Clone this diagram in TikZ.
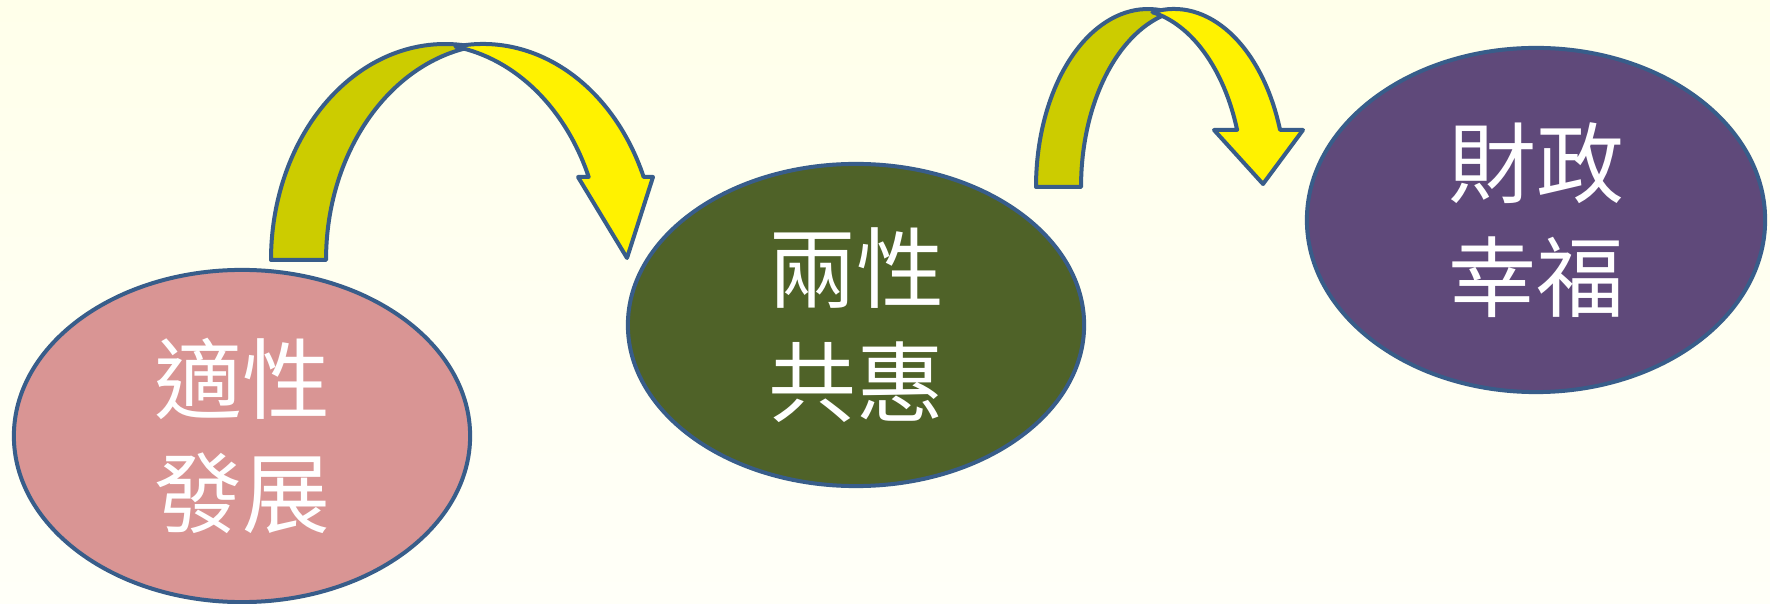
\documentclass[tikz,border=0pt]{standalone}
\usepackage{fontspec}
\newfontfamily\cjkfont{Noto Sans CJK TC}
\usetikzlibrary{shapes.geometric}
\definecolor{edgeblue}{HTML}{385D8A}
\definecolor{backolive}{HTML}{CCCC00}
\definecolor{bubblepink}{HTML}{D99594}
\definecolor{bubblegreen}{HTML}{4F6228}
\definecolor{bubblepurple}{HTML}{5F497A}
\tikzset{
  bubble/.style={ellipse, draw=edgeblue, line width=0.04cm, inner sep=0pt,
    text=white, align=center, font=\cjkfont\fontsize{25}{32.5}\selectfont},
  arrowback/.style={fill=backolive, draw=edgeblue, line width=0.04cm, line join=round},
  arrowfront/.style={fill=yellow, draw=edgeblue, line width=0.04cm, line join=round}
}
\begin{document}
\begin{tikzpicture}[x=0.01cm, y=0.01cm]
    \useasboundingbox (0,0) rectangle (1770,603);
    \shade[top color={rgb,255:red,255;green,255;blue,234}, bottom color={rgb,255:red,255;green,255;blue,248}]
      (0,0) rectangle (1770,603);
    % the three ellipses
    \node[bubble, fill=bubblepink, minimum width=4.56cm, minimum height=3.32cm] (growth) at (242,167) {適性\\發展};
    \node[bubble, fill=bubblegreen, minimum width=4.56cm, minimum height=3.22cm] (gender) at (856,278) {兩性\\共惠};
    \node[bubble, fill=bubblepurple, minimum width=4.58cm, minimum height=3.44cm] (wealth) at (1536,383) {財政\\幸福};
    % first curved arrow
    \draw[arrowback] (271,343) arc[start angle=180, end angle=80.9, x radius=174, y radius=216]
      arc[start angle=99.1, end angle=180, x radius=174, y radius=216] -- cycle;
    \draw[arrowfront] (455.5,556.3) arc[start angle=99.1, end angle=22.6, x radius=174, y radius=216]
      -- (653,426) -- (627,345) -- (578,426) -- (588.7,426)
      arc[start angle=22.6, end angle=80.9, x radius=174, y radius=216] -- cycle;
    % second curved arrow
    \draw[arrowback] (1036,416) arc[start angle=180, end angle=78.4, x radius=112, y radius=178]
      arc[start angle=101.6, end angle=180, x radius=112, y radius=178] -- cycle;
    \draw[arrowfront] (1152.4,590.7) arc[start angle=101.1, end angle=18.7, x radius=112, y radius=178]
      -- (1303,473) -- (1263,419) -- (1214,473) -- (1237.1,473.1)
      arc[start angle=18.7, end angle=78.9, x radius=112, y radius=178] -- cycle;
  \end{tikzpicture}
\end{document}
